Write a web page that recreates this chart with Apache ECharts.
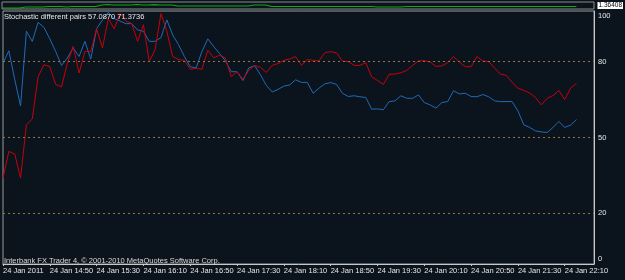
<!DOCTYPE html>
<html><head><meta charset="utf-8">
<script src="https://cdn.jsdelivr.net/npm/echarts@6/dist/echarts.min.js"></script>
<style>html,body{margin:0;padding:0;background:#0b141c;}#c{width:625px;height:280px;}</style>
</head><body><div id="c"></div>
<script>
// ---- data ----
const title = 'Stochastic different pairs 57.0870 71.3736';
const footer = 'Interbank FX Trader 4, \u00a9 2001-2010 MetaQuotes Software Corp.';
const priceLabel = '1.36408';
const levels = [20, 50, 80];
const yTickLabels = [0, 20, 50, 80, 100];
const startHour = 14, startMin = 10, stepMin = 5, nSlots = 102;
const firstLabel = '24 Jan 2011';
const dayPrefix = '24 Jan ';

const stochBlue = [79.4,84.3,73,62.5,92,88,95.5,93.5,89,84,78.5,81.4,85.4,82,88,81,93,96.5,99.5,97,
  96,95,95,92.5,92,88,88,89.5,96.5,90.5,86.7,82,78,77.5,84,89,86,83.2,80.3,76,
  76,72.5,77.5,78.4,74.8,70.6,68,69,70.3,70.8,72.8,71.8,71.8,67.5,69.5,71.2,71.7,71,67.5,66.2,
  66.5,66.1,65.8,61.2,61.3,61,64.2,64.5,66.5,65.5,65.5,66.8,63.8,62.9,61.6,63.8,64.2,68.5,67.2,67.5,
  66.2,66.1,67,66.1,64.5,64.2,64.2,64.2,60.5,55,54,52.6,52.2,52,54,56.3,54,54.9,57.087];
const stochRed = [33.9,44.5,43.5,34,55,57.3,74,78.8,78,71,70,79.4,86,75.5,84,84,93,85.4,97,93,
  99,96,95,88,94.6,80,84.8,99,92,82,80.8,80.5,77,77.3,77,84.5,81.5,82.5,81.5,74,
  76,73,76.5,78.5,77.7,75.7,78.5,79.2,80.5,81,82,78.5,80.8,80.5,80.3,83.5,83.9,83.5,80.2,80,
  78.5,78.5,79.6,74,72.5,71,75,75.1,75.6,76.5,78.5,80.3,80.4,79.8,78.1,78.3,79.6,82,79.8,78,
  78,82,80.2,80,77.5,75,74.6,71.8,69.5,68.6,67.6,65.8,62.9,65.5,66.6,68.6,65,69.5,71.3736];
const priceStrip = [1,1,1,2,2,2,2,2.5,2.5,2.5,2,2.5,2.5,2.5,2.5,2.5,4,4.5,4,4,
  4,4,4.5,4,4,4.3,4,4,4,3,3,3,3,3,3,3,3,3,3,3,
  3,3,4,4,4,2.5,2.5,2.5,2.5,2.5,2.5,2.5,2.5,2.5,2.5,2.5,2.5,2.5,2.5,2.5,
  2.5,2.5,2.5,2,2,2,2,2,2.5,2.5,2.5,2.5,2.5,2.5,2.5,2.5,2.5,2.5,2.5,2.5,
  2.5,2.5,2.5,2.5,2.5,2.5,2.5,2.5,2.5,2.5,2.5,2.5,2.5,2.5,2.5,2.5,2.5,2.5,2.5];

// ---- categories ----
const cats = [];
for (let i = 0; i < nSlots; i++) {
  const t = startHour * 60 + startMin + i * stepMin;
  const h = Math.floor(t / 60), m = t % 60;
  cats.push(dayPrefix + h + ':' + String(m).padStart(2, '0'));
}

const FONT = 'Liberation Sans';
const LEVEL_COLOR = '#94753c';
const chart = echarts.init(document.getElementById('c'), null, {renderer: 'canvas'});
chart.setOption({
  backgroundColor: '#0b141c',
  animation: false,
  title: [
    {text: title, left: 4, top: 13, textStyle: {color: '#e6e6e6', fontSize: 7.5, fontWeight: 'normal', fontFamily: FONT}, padding: 0},
    {text: footer, left: 4, top: 257, textStyle: {color: '#d8d8d8', fontSize: 7.5, fontWeight: 'normal', fontFamily: FONT}, padding: 0}
  ],
  grid: [
    {left: 2, right: 31, top: 11, bottom: 16, show: true, borderColor: '#9a9a9a', borderWidth: 1, backgroundColor: 'transparent'},
    {left: 2, right: 31, top: 2, height: 7, show: true, borderColor: '#8a8a8a', borderWidth: 1, backgroundColor: 'transparent'}
  ],
  xAxis: [
    {type: 'category', gridIndex: 0, data: cats, boundaryGap: false,
     axisLine: {lineStyle: {color: '#c8c8c8', width: 1}},
     axisTick: {show: true, interval: 7, length: 2, inside: false, lineStyle: {color: '#c8c8c8'}},
     axisLabel: {interval: 7, align: 'left', margin: 3, color: '#e6e6e6', fontSize: 7.5, fontFamily: FONT,
       formatter: (v, i) => i === 0 ? firstLabel : v},
     splitLine: {show: false}},
    {type: 'category', gridIndex: 1, data: cats, boundaryGap: false, show: false}
  ],
  yAxis: [
    {type: 'value', gridIndex: 0, min: 0, max: 100, interval: 10, position: 'right',
     axisLine: {show: true, lineStyle: {color: '#c8c8c8'}}, axisTick: {show: false}, splitLine: {show: false},
     axisLabel: {margin: 4, color: '#e6e6e6', fontSize: 7.5, fontFamily: FONT,
       formatter: v => {
         if (!yTickLabels.includes(v)) return '';
         if (v === 100) return '{t|' + v + '}';
         if (v === 0) return '{b|' + v + '}';
         return '{m|' + v + '}';
       },
       rich: {
         t: {padding: [10, 0, 0, 0], fontSize: 7.5, color: '#e6e6e6', fontFamily: FONT},
         b: {padding: [0, 0, 10, 0], fontSize: 7.5, color: '#e6e6e6', fontFamily: FONT},
         m: {fontSize: 7.5, color: '#e6e6e6', fontFamily: FONT}
       }}},
    {type: 'value', gridIndex: 1, min: 0, max: 7, show: false}
  ],
  series: [
    {type: 'line', name: 'blue', xAxisIndex: 0, yAxisIndex: 0, data: stochBlue, symbol: 'none',
     lineStyle: {color: '#1f6ab8', width: 1}, z: 3},
    {type: 'line', name: 'red', xAxisIndex: 0, yAxisIndex: 0, data: stochRed, symbol: 'none',
     lineStyle: {color: '#c8000c', width: 1}, z: 4,
     markLine: {silent: true, symbol: 'none', label: {show: false},
       lineStyle: {color: LEVEL_COLOR, type: [2, 3], width: 1, opacity: 1},
       emphasis: {disabled: true},
       data: levels.map(l => ({yAxis: l, lineStyle: {color: LEVEL_COLOR, type: [2, 3], width: 1}}))}},
    {type: 'line', name: 'price', xAxisIndex: 1, yAxisIndex: 1, data: priceStrip, symbol: 'none', step: 'end',
     lineStyle: {color: '#14a814', width: 1.2}}
  ],
  graphic: [
    {type: 'text', right: 2, top: 2, z: 10,
     style: {text: priceLabel, fill: '#000000', backgroundColor: '#ffffff', padding: [0, 1, 0, 1],
       font: '6.5px ' + FONT}}
  ]
});
</script></body></html>
